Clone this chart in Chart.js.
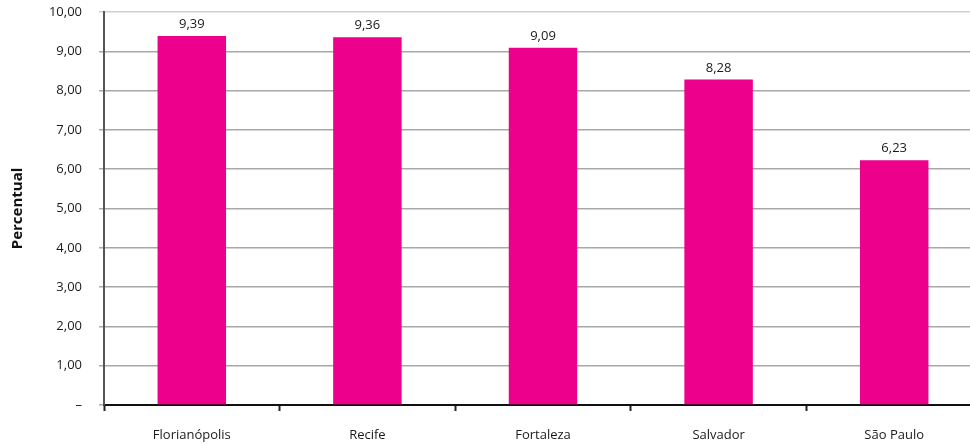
<!DOCTYPE html>
<html>
<head>
<meta charset="utf-8">
<script src="https://cdn.jsdelivr.net/npm/chart.js@4"></script>
<style>
  html, body { margin: 0; padding: 0; background: #fff; overflow: hidden; }
  #wrap { width: 982px; height: 444px; }
</style>
</head>
<body>
<div id="wrap"><canvas id="chart" width="982" height="444"></canvas></div>
<script>
const cidades = ["Florianópolis", "Recife", "Fortaleza", "Salvador", "São Paulo"]
const percentuais = [9.39, 9.36, 9.09, 8.28, 6.23]
const yMin = 0
const yMax = 10
const yStep = 1

const FONT = "'Open Sans', sans-serif"
const fmt = (v) => v.toFixed(2).replace(".", ",")

// value labels above each bar
const valueLabels = {
  id: "valueLabels",
  afterDatasetsDraw(chart) {
    const ctx = chart.ctx
    const meta = chart.getDatasetMeta(0)
    ctx.save()
    ctx.font = "13px " + FONT
    ctx.fillStyle = "#1a1a1a"
    ctx.textAlign = "center"
    ctx.textBaseline = "alphabetic"
    meta.data.forEach((bar, i) => {
      ctx.fillText(fmt(percentuais[i]), bar.x, bar.y - 8)
    })
    ctx.restore()
  },
}

const ctx = document.getElementById("chart").getContext("2d")
new Chart(ctx, {
  type: "bar",
  data: {
    labels: cidades,
    datasets: [
      {
        data: percentuais,
        backgroundColor: "#EC008C",
        barPercentage: 0.39,
        categoryPercentage: 1,
      },
    ],
  },
  options: {
    responsive: false,
    animation: false,
    layout: { padding: { top: 12, right: 0, left: 0, bottom: 0 } },
    plugins: {
      legend: { display: false },
      tooltip: { enabled: false },
    },
    scales: {
      x: {
        afterFit: (a) => {
          a.height = 39
          a.paddingLeft = 0
          a.paddingRight = 0
        },
        grid: {
          offset: true,
          drawOnChartArea: false,
          drawTicks: true,
          tickLength: 6,
          tickWidth: 2,
          tickColor: "#222",
        },
        border: { color: "#111", width: 2 },
        ticks: {
          padding: 16,
          color: "#1a1a1a",
          font: { family: FONT, size: 13 },
        },
      },
      y: {
        min: yMin,
        max: yMax,
        afterFit: (a) => {
          a.width = 104
          a.paddingTop = 0
          a.paddingBottom = 0
        },
        grid: {
          color: (c) => (c.tick.value === yMax ? "#d0d0d0" : "#a8a8a8"),
          lineWidth: 1.5,
          tickLength: 5,
        },
        border: { color: "#555", width: 2 },
        ticks: {
          stepSize: yStep,
          padding: 17,
          color: "#1a1a1a",
          font: { family: FONT, size: 13 },
          callback: (v) => (v === 0 ? "–" : fmt(v)),
        },
        title: {
          display: true,
          text: "Percentual",
          color: "#111",
          font: { family: FONT, size: 15, weight: "bold" },
          padding: { top: 9, bottom: 0 },
        },
      },
    },
  },
  plugins: [valueLabels],
})
</script>
</body>
</html>
